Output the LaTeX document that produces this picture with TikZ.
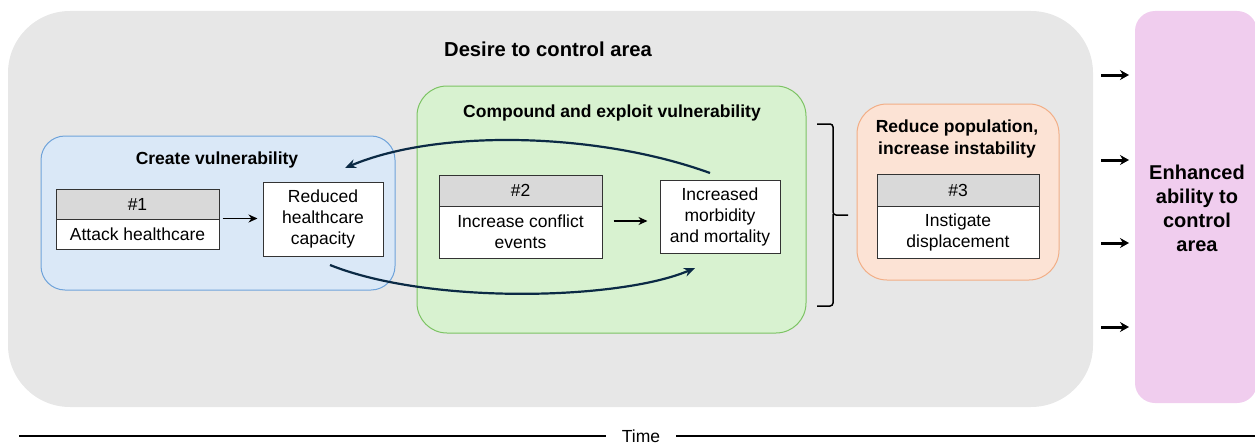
\documentclass[tikz,border=0pt]{standalone}
\usepackage{fontspec}
\setmainfont{Liberation Sans}
\usetikzlibrary{arrows.meta}
\definecolor{bggray}{HTML}{E7E7E7}
\definecolor{bluefill}{HTML}{DAE8F7}
\definecolor{bluedraw}{HTML}{6FA3DA}
\definecolor{greenfill}{HTML}{D8F2D0}
\definecolor{greendraw}{HTML}{7CC363}
\definecolor{orfill}{HTML}{FCE3D5}
\definecolor{ordraw}{HTML}{F2AE86}
\definecolor{pinkfill}{HTML}{F0CDEE}
\definecolor{hdrgray}{HTML}{D9D9D9}
\definecolor{navy}{HTML}{0B2A45}
\tikzset{
  txt/.style={font=\fontsize{17.5}{21}\selectfont, align=center, inner sep=0pt},
  btxt/.style={font=\fontsize{17.5}{22}\selectfont\bfseries, align=center, inner sep=0pt},
  hdr/.style={draw=black!80, line width=1pt, fill=hdrgray, minimum width=163pt, minimum height=31pt, txt},
  body/.style={draw=black!80, line width=1pt, fill=white, minimum width=163pt, txt},
  resbox/.style={draw=black!80, line width=1pt, fill=white, minimum width=120pt, minimum height=74pt, txt},
  smallarrow/.style={-{Stealth[length=9pt,width=8pt]}, line width=1.6pt, black},
  bigarrow/.style={-{Stealth[length=9pt,width=10pt]}, line width=3pt, black},
  curvearrow/.style={-{Stealth[length=11pt,width=9pt]}, line width=2.2pt, navy},
}
\begin{document}
\begin{tikzpicture}[x=1pt,y=-1pt]
\useasboundingbox (0,0) rectangle (1255,444);
% big gray area
\node[fill=bggray, rounded corners=62pt, minimum width=1085pt, minimum height=396pt, inner sep=0pt] (area) at (550.5,209) {};
\node[font=\fontsize{20.2}{24}\selectfont\bfseries, inner sep=0pt] (areat) at (548,49) {Desire to control area};
% pink
\node[fill=pinkfill, rounded corners=20pt, minimum width=122pt, minimum height=392pt, inner sep=0pt] (goal) at (1196,207) {};
\node[font=\fontsize{20}{24}\selectfont\bfseries, align=center, inner sep=0pt] (goalt) at (1197,208) {Enhanced\\ability to\\control\\area};
% blue
\node[fill=bluefill, draw=bluedraw, line width=1pt, rounded corners=24pt, minimum width=354pt, minimum height=154pt, inner sep=0pt] (blue) at (218,213) {};
\node[btxt] (bluet) at (217,160) {Create vulnerability};
% green
\node[fill=greenfill, draw=greendraw, line width=1pt, rounded corners=30pt, minimum width=389pt, minimum height=247pt, inner sep=0pt] (green) at (611.5,209.5) {};
\node[btxt] (greent) at (612,113) {Compound and exploit vulnerability};
% orange
\node[fill=orfill, draw=ordraw, line width=1pt, rounded corners=30pt, minimum width=202pt, minimum height=176pt, inner sep=0pt] (orange) at (958,192) {};
\node[btxt] (oranget) at (957,139) {Reduce population,\\increase instability};
% #1
\node[hdr, minimum height=30pt] (h1) at (137.5,204) {\#1};
\node[body, minimum height=30pt] (b1) at (137.5,234) {Attack healthcare};
\node[resbox] (red) at (323,219) {Reduced\\healthcare\\capacity};
% #2
\node[hdr] (h2) at (520.5,190.5) {\#2};
\node[body, minimum height=52pt] (b2) at (520.5,232) {Increase conflict\\events};
\node[resbox, minimum height=73pt] (morb) at (720,216.5) {Increased\\morbidity\\and mortality};
% #3
\node[hdr, minimum width=162pt, minimum height=32pt] (h3) at (958,190) {\#3};
\node[body, minimum width=162pt, minimum height=52pt] (b3) at (958,232) {Instigate\\displacement};
% small arrows
\draw[smallarrow] (b1.north east) ++(3,0) coordinate (a1s) -- ([xshift=-5pt]red.west |- a1s) coordinate (a1e);
\draw[smallarrow] ([xshift=11pt]b2.east) ++(0,-11) coordinate (a2s) -- ([xshift=-12pt]morb.west |- a2s) coordinate (a2e);
% curves
\coordinate (c1s) at (710,173);
\coordinate (c1e) at (345,168);
\draw[curvearrow] (c1s) .. controls (600,133) and (440,128) .. (c1e);
\coordinate (c2s) at (330,265);
\coordinate (c2e) at (695,268);
\draw[curvearrow] (c2s) .. controls (430,305) and (620,300) .. (c2e);
% bracket
\draw[line width=1.5pt, rounded corners=3pt] (817,124) -- (833,124) -- (833,215) -- (848,215);
\draw[line width=1.5pt, rounded corners=3pt] (833,214) -- (833,306) -- (817,306);
% right arrows
\foreach \yy/\nm in {75/r1,160/r2,243/r3,327/r4}{
  \coordinate (\nm s) at (1101,\yy);
  \coordinate (\nm e) at (1129,\yy);
  \draw[bigarrow] (\nm s) -- (\nm e);
}
% time
\node[txt] (time) at (641,436) {Time};
\coordinate (tl) at (19,436);
\coordinate (tr) at (1255,436);
\draw[line width=1.6pt] (tl) -- ([xshift=-16pt]time.west);
\draw[line width=1.6pt] ([xshift=16pt]time.east) -- (tr);
\end{tikzpicture}
\end{document}
